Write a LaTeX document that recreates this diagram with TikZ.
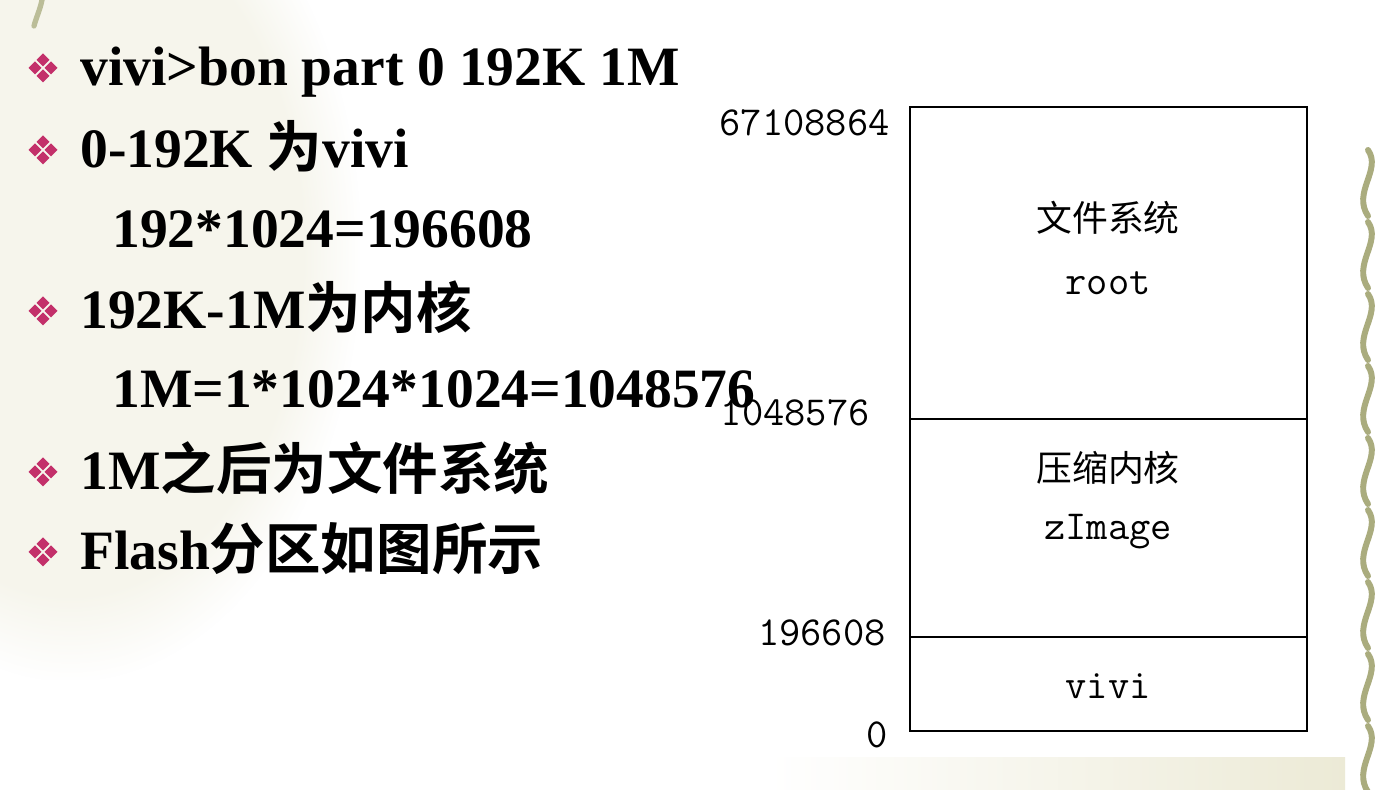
\documentclass[tikz,border=0pt]{standalone}
\usepackage{fontspec}
\setmainfont{Liberation Serif}
\newfontfamily\cjk{Noto Sans CJK SC}[BoldFont={Noto Sans CJK SC Bold}]
\newcommand{\zh}[1]{{\cjk #1}}
\definecolor{bulletred}{RGB}{195,48,106}
\definecolor{vine}{RGB}{170,172,126}
\definecolor{cream}{RGB}{236,234,214}
\usetikzlibrary{fadings}

\tikzset{
  slideline/.style={anchor=base west, inner sep=0pt,
    font=\fontsize{31.6pt}{36pt}\selectfont\bfseries},
  memline/.style={draw=black, line width=1.3pt},
  addrlabel/.style={anchor=base east, inner sep=0pt,
    font=\ttfamily\fontsize{23.5pt}{27pt}\selectfont},
  memtext/.style={anchor=base, inner sep=0pt,
    font=\ttfamily\fontsize{23.5pt}{27pt}\selectfont},
  zhlabel/.style={inner sep=0pt, font=\cjk\fontsize{20.4pt}{24pt}\selectfont}
}

\begin{document}
\begin{tikzpicture}[x=0.02cm, y=-0.02cm]
            % Background
            \useasboundingbox (0,0) rectangle (1384,790);
            \fill[white] (0,0) rectangle (1384,790);
            \fill[cream, fill opacity=0.45, path fading=circle with fuzzy edge 20 percent] (-220,-180) rectangle (360,680);
            \shade[left color=white, right color=cream] (770,757) rectangle (1345,790);
            \draw[vine!80, line width=3pt, line cap=round] (42,0) .. controls (40,10) and (36,18) .. (34,26);
            \foreach \vy in {148,220,292,364,436,508,580,652,724}
              \draw[vine, line width=3.4pt, line cap=round]
                (1368,\vy+2) .. controls (1382,\vy+22) and (1352,\vy+44) .. (1368,\vy+68);

            % Bullets
            \foreach \by in {68,150,311,472,552}
              \foreach \dx/\dy in {0/-8,8/0,0/8,-8/0}
                \fill[bulletred] (43+\dx,\by+\dy-6.5) -- ++(6.5,6.5) -- ++(-6.5,6.5) -- ++(-6.5,-6.5) -- cycle;

            % Text lines
            \node[slideline] (cmd) at (80,86) {vivi>bon part 0 192K 1M};
            \node[slideline] (vivipart) at (80,168) {0-192K \zh{为}vivi};
            \node[slideline] (vivisize) at (112,248) {192*1024=196608};
            \node[slideline] (kernpart) at (80,329) {192K-1M\zh{为内核}};
            \node[slideline] (kernsize) at (112,408) {1M=1*1024*1024=1048576};
            \node[slideline] (fspart) at (80,490) {1M\zh{之后为文件系统}};
            \node[slideline] (flash) at (80,570) {Flash\zh{分区如图所示}};

            % Memory map
            \draw[memline] (910,107) rectangle (1307,419);
            \draw[memline] (910,419) rectangle (1307,637);
            \draw[memline] (910,637) rectangle (1307,731);

            \node[zhlabel] (fs) at (1108,218) {文件系统};
            \node[memtext] (root) at (1108,295) {root};
            \node[zhlabel] (kernel) at (1108,468) {压缩内核};
            \node[memtext] (zimage) at (1108,540) {zImage};
            \node[memtext] (vivi) at (1108,699) {vivi};

            \node[addrlabel] (top) at (890,136) {67108864};
            \node[addrlabel] (onem) at (870,426) {1048576};
            \node[addrlabel] (boot) at (886,645) {196608};
            \node[addrlabel] (zero) at (888,747) {0};

        \end{tikzpicture}
\end{document}
